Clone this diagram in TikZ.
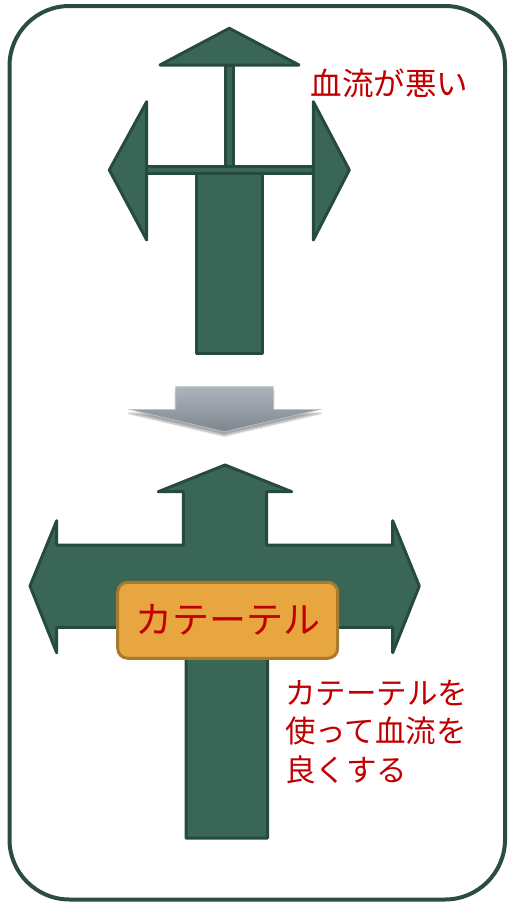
\documentclass[tikz,border=0pt]{standalone}
\usepackage{fontspec}
\newfontfamily\jp{Noto Sans CJK JP}
\usetikzlibrary{shadows.blur}
\definecolor{gfill}{HTML}{3A6658}
\definecolor{gline}{HTML}{264A3E}
\definecolor{frame}{HTML}{2A4D40}
\definecolor{jred}{HTML}{C00000}
\definecolor{lbfill}{HTML}{E8A640}
\definecolor{lbline}{HTML}{A87A30}
\definecolor{gtop}{HTML}{AEB4BB}
\definecolor{gbot}{HTML}{7D868F}
\begin{document}
\begin{tikzpicture}[x=1pt,y=-1pt,
  gshape/.style={fill=gfill,draw=gline,line width=3pt,line join=round},
  redtext/.style={text=jred,inner sep=0pt,font=\jp},
]
\useasboundingbox (0,0) rectangle (508,905);
% outer frame
\draw[frame,line width=4pt,rounded corners=60pt] (9.5,6) rectangle (505,899.5);
% ---------- top figure ----------
\draw[gshape] (146.7,166.7) rectangle (313.3,173.3);
\draw[gshape] (225,65) rectangle (233.4,166.7);
\draw[gshape] (229.3,28.3) -- (299,65) -- (160,65) -- cycle;
\draw[gshape] (146.7,101.7) -- (146.7,240) -- (109.3,170) -- cycle;
\draw[gshape] (313.3,101.7) -- (313.3,240) -- (349.3,170) -- cycle;
\draw[gshape] (196.7,173.3) rectangle (262.7,353.3);
\node[redtext,font=\jp\fontsize{31.5}{31.5}\selectfont] (bad) at (389.5,83) {血流が悪い};
% ---------- grey arrow ----------
\path[top color=gtop,bottom color=gbot,draw=gtop!80!white,line width=0.6pt,
  blur shadow={shadow xshift=0pt,shadow yshift=-4pt,shadow blur steps=8,shadow opacity=35}]
  (175.7,386.7) -- (273.3,386.7) -- (273.3,409.3) -- (320.7,409.3) -- (224.3,431.7)
  -- (129,409.3) -- (175.7,409.3) -- cycle;
% ---------- bottom figure ----------
\draw[gshape] (225,465) -- (291.7,491.7) -- (266.7,491.7) -- (266.7,545) -- (392.7,545)
  -- (392.7,520.7) -- (419.3,586) -- (392.7,652.7) -- (392.7,627.3) -- (267.5,627.3)
  -- (267.5,838) -- (186,838) -- (186,627.3) -- (56.7,627.3) -- (56.7,652.7)
  -- (30,586) -- (56.7,520.7) -- (56.7,545) -- (183.3,545) -- (183.3,491.7)
  -- (158.3,491.7) -- cycle;
\node[draw=lbline,fill=lbfill,line width=3pt,rounded corners=10pt,
  minimum width=220pt,minimum height=76pt,inner sep=0pt,
  text=jred,font=\jp\fontsize{37}{37}\selectfont] (cath) at (227.7,620.3) {カテーテル};
\node[redtext,align=left,anchor=north west,font=\jp\fontsize{30.5}{38.3}\selectfont]
  (good) at (285,680) {カテーテルを\\使って血流を\\良くする};
\end{tikzpicture}
\end{document}
